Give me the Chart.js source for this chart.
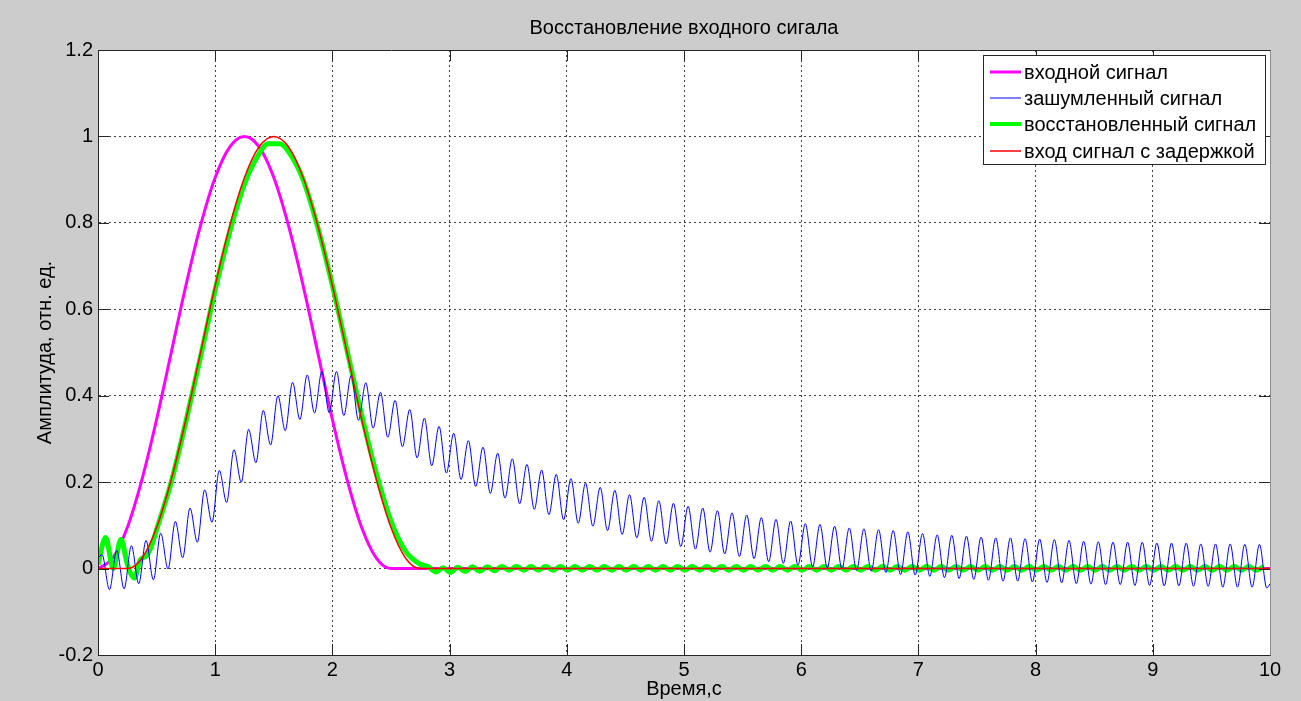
<!DOCTYPE html>
<html>
<head>
<meta charset="utf-8">
<title>Восстановление входного сигала</title>
<script src="https://cdn.jsdelivr.net/npm/chart.js@4.4.1/dist/chart.umd.min.js"></script>
<style>
  html, body { margin: 0; padding: 0; background: #cccccc; overflow: hidden; }
  canvas { display: block; }
</style>
</head>
<body>
<canvas id="plot" width="1301" height="701"></canvas>
<script>
// входной сигнал
var inputT = [0, 0.125, 0.25, 0.375, 0.5, 0.625, 0.75, 0.875, 1.0, 1.125, 1.25,
              1.375, 1.5, 1.625, 1.75, 1.875, 2.0, 2.125, 2.25, 2.375, 2.5, 10];
var inputY = [0, 0.024, 0.095, 0.206, 0.345, 0.5, 0.655, 0.794, 0.905, 0.976, 1.0,
              0.976, 0.905, 0.794, 0.655, 0.5, 0.345, 0.206, 0.095, 0.024, 0, 0];

// вход сигнал с задержкой
var delayT = [0, 0.25, 0.375, 0.5, 0.625, 0.75, 0.875, 1.0, 1.125, 1.25, 1.375, 1.5,
              1.625, 1.75, 1.875, 2.0, 2.125, 2.25, 2.375, 2.5, 2.625, 2.75, 10];
var delayY = [0, 0, 0.024, 0.095, 0.206, 0.345, 0.5, 0.655, 0.794, 0.905, 0.976, 1.0,
              0.976, 0.905, 0.794, 0.655, 0.5, 0.345, 0.206, 0.095, 0.024, 0, 0];

// зашумленный сигнал: начало, пики/впадины через полпериода помехи, конец
var noisyStart = 0.025;
var noisyEnd = -0.035;
var noisyT0 = 0.035;
var noisyStep = 0.0625;
var noisyY = [
  0.032, -0.049, 0.042, -0.047, 0.053, -0.035, 0.065, -0.026, 0.082, -0.001,
  0.109, 0.025, 0.140, 0.061, 0.182, 0.107, 0.227, 0.153, 0.275, 0.200,
  0.322, 0.245, 0.366, 0.286, 0.400, 0.319, 0.431, 0.345, 0.448, 0.360,
  0.456, 0.361, 0.456, 0.354, 0.447, 0.343, 0.430, 0.325, 0.408, 0.304,
  0.389, 0.282, 0.368, 0.256, 0.348, 0.238, 0.329, 0.221, 0.313, 0.206,
  0.296, 0.190, 0.281, 0.174, 0.267, 0.163, 0.254, 0.150, 0.241, 0.137,
  0.228, 0.125, 0.218, 0.113, 0.208, 0.105, 0.198, 0.098, 0.188, 0.088,
  0.181, 0.079, 0.171, 0.071, 0.165, 0.063, 0.157, 0.057, 0.151, 0.051,
  0.144, 0.045, 0.140, 0.038, 0.134, 0.034, 0.129, 0.028, 0.124, 0.023,
  0.118, 0.016, 0.114, 0.012, 0.110, 0.008, 0.104, 0.004, 0.102, 0.002,
  0.098, -0.001, 0.094, -0.004, 0.092, -0.006, 0.090, -0.009, 0.088, -0.014,
  0.085, -0.015, 0.081, -0.018, 0.078, -0.021, 0.077, -0.023, 0.075, -0.025,
  0.073, -0.027, 0.071, -0.029, 0.071, -0.029, 0.069, -0.031, 0.068, -0.032,
  0.067, -0.033, 0.065, -0.035, 0.063, -0.036, 0.062, -0.037, 0.061, -0.037,
  0.061, -0.039, 0.061, -0.039, 0.059, -0.040, 0.059, -0.040, 0.059, -0.041,
  0.057, -0.041, 0.057, -0.043, 0.057, -0.043, 0.056, -0.043, 0.056, -0.045
];

// восстановленный сигнал: основной импульс
var restT = [0, 0.065, 0.13, 0.196, 0.25, 0.31, 0.36, 0.415, 0.46, 0.5, 0.625, 0.75,
             0.875, 1.0, 1.125, 1.25, 1.375, 1.45, 1.55, 1.625, 1.75, 1.875, 2.0,
             2.125, 2.25, 2.375, 2.5, 2.625, 2.75];
var restY = [0.01, 0.072, 0.0, 0.068, 0.01, -0.022, 0.02, 0.03, 0.055, 0.09, 0.2, 0.34,
             0.49, 0.645, 0.78, 0.89, 0.96, 0.983, 0.983, 0.965, 0.9, 0.79, 0.655,
             0.505, 0.355, 0.22, 0.11, 0.04, 0.01];
// восстановленный сигнал: остаточные колебания после импульса
var rippleT0 = 2.82;
var rippleStep = 0.0625;
var rippleY = [
  0.004, -0.008, 0.002, -0.009, 0.003, -0.007, 0.004, -0.006, 0.004, -0.005,
  0.005, -0.004, 0.005, -0.004, 0.005, -0.004, 0.005, -0.004, 0.005, -0.004,
  0.005, -0.004, 0.005, -0.004, 0.005, -0.004, 0.005, -0.004, 0.005, -0.004,
  0.005, -0.004, 0.005, -0.004, 0.005, -0.004, 0.005, -0.004, 0.005, -0.004,
  0.005, -0.004, 0.005, -0.004, 0.005, -0.004, 0.005, -0.004, 0.005, -0.004,
  0.005, -0.004, 0.005, -0.004, 0.005, -0.004, 0.005, -0.004, 0.005, -0.004,
  0.005, -0.004, 0.005, -0.004, 0.005, -0.004, 0.005, -0.004, 0.005, -0.004,
  0.005, -0.004, 0.005, -0.004, 0.005, -0.004, 0.005, -0.004, 0.005, -0.004,
  0.005, -0.004, 0.005, -0.004, 0.005, -0.004, 0.005, -0.004, 0.005, -0.004,
  0.005, -0.004, 0.005, -0.004, 0.005, -0.004, 0.005, -0.004, 0.005, -0.004,
  0.005, -0.004, 0.005, -0.004, 0.005, -0.004, 0.005, -0.004, 0.005, -0.004,
  0.005, -0.004, 0.005, -0.004, 0.005
];

var chartTitle = 'Восстановление входного сигала';
var seriesLabels = ['входной сигнал', 'зашумленный сигнал', 'восстановленный сигнал', 'вход сигнал с задержкой'];
var xTicks = [0, 1, 2, 3, 4, 5, 6, 7, 8, 9, 10];
var xTickLabels = ['0', '1', '2', '3', '4', '5', '6', '7', '8', '9', '10'];
var yTicks = [-0.2, 0, 0.2, 0.4, 0.6, 0.8, 1, 1.2];
var yTickLabels = ['-0.2', '0', '0.2', '0.4', '0.6', '0.8', '1', '1.2'];

function pairs(ts, ys) {
  return ts.map(function (t, i) { return { x: t, y: ys[i] }; });
}

var noisyPts = [{ x: 0, y: noisyStart }];
noisyY.forEach(function (v, i) { noisyPts.push({ x: noisyT0 + i * noisyStep, y: v }); });
noisyPts.push({ x: 10, y: noisyEnd });

var restPts = pairs(restT, restY);
rippleY.forEach(function (v, i) {
  var t = rippleT0 + i * rippleStep;
  if (t <= 10) restPts.push({ x: t, y: v });
});

var fontFamily = "'Liberation Sans', Arial, Helvetica, sans-serif";
var axisFont = { family: fontFamily, size: 20 };

// серый фон окна, белая область графика, рамка, риски, заголовок и легенда
var matlabAxes = {
  id: 'matlabAxes',
  beforeDraw: function (chart) {
    var ctx = chart.ctx, a = chart.chartArea;
    ctx.save();
    ctx.fillStyle = '#cccccc';
    ctx.fillRect(0, 0, chart.width, chart.height);
    ctx.fillStyle = '#ffffff';
    ctx.fillRect(a.left, a.top, a.right - a.left, a.bottom - a.top);
    ctx.restore();
  },
  afterDraw: function (chart) {
    var ctx = chart.ctx, a = chart.chartArea;
    var xs = chart.scales.x, ys = chart.scales.y;
    var tick = 11;
    ctx.save();

    // заголовок по центру области графика
    ctx.fillStyle = '#000000';
    ctx.font = '20px ' + fontFamily;
    ctx.textAlign = 'center';
    ctx.textBaseline = 'middle';
    ctx.fillText(chartTitle, (a.left + a.right) / 2, 28);

    ctx.strokeStyle = '#262626';
    ctx.lineWidth = 1;
    ctx.beginPath();
    xTicks.forEach(function (v) {
      var px = Math.round(xs.getPixelForValue(v)) + 0.5;
      ctx.moveTo(px, a.bottom); ctx.lineTo(px, a.bottom - tick);
      ctx.moveTo(px, a.top); ctx.lineTo(px, a.top + tick);
    });
    yTicks.forEach(function (v) {
      var py = Math.round(ys.getPixelForValue(v)) + 0.5;
      ctx.moveTo(a.left, py); ctx.lineTo(a.left + tick, py);
      ctx.moveTo(a.right, py); ctx.lineTo(a.right - tick, py);
    });
    ctx.stroke();
    ctx.beginPath();
    ctx.moveTo(a.left + 0.5, a.bottom + 0.5);
    ctx.lineTo(a.left + 0.5, a.top + 0.5);
    ctx.lineTo(a.right + 0.5, a.top + 0.5);
    ctx.moveTo(a.left + 0.5, a.bottom + 0.5);
    ctx.lineTo(a.right + 0.5, a.bottom + 0.5);
    ctx.stroke();
    ctx.strokeStyle = '#8c8c8c';
    ctx.beginPath();
    ctx.moveTo(a.right + 0.5, a.top + 0.5);
    ctx.lineTo(a.right + 0.5, a.bottom + 0.5);
    ctx.stroke();

    // легенда в правом верхнем углу
    var w = 283, h = 110;
    var bx = a.right - 4 - w, by = a.top + 5;
    ctx.fillStyle = '#ffffff';
    ctx.fillRect(bx, by, w, h);
    ctx.strokeStyle = '#262626';
    ctx.strokeRect(bx + 0.5, by + 0.5, w - 1, h - 1);
    ctx.textBaseline = 'middle';
    ctx.textAlign = 'left';
    chart.data.datasets.forEach(function (ds, i) {
      var cy = Math.round(by + 17 + i * 26.2);
      ctx.strokeStyle = ds.borderColor;
      ctx.lineWidth = Math.min(ds.borderWidth, 4);
      ctx.beginPath();
      ctx.moveTo(bx + 7, cy);
      ctx.lineTo(bx + 38, cy);
      ctx.stroke();
      ctx.fillStyle = '#000000';
      ctx.fillText(ds.label, bx + 41, cy + 1);
    });
    ctx.restore();
  }
};

var lineDefaults = { pointRadius: 0, fill: false, cubicInterpolationMode: 'monotone' };

new Chart(document.getElementById('plot'), {
  type: 'line',
  data: {
    datasets: [
      Object.assign({ label: seriesLabels[0], data: pairs(inputT, inputY),
        borderColor: '#ff00ff', borderWidth: 3, order: 4 }, lineDefaults),
      Object.assign({ label: seriesLabels[1], data: noisyPts,
        borderColor: '#0000ff', borderWidth: 1, order: 2 }, lineDefaults),
      Object.assign({ label: seriesLabels[2], data: restPts,
        borderColor: '#00ff00', borderWidth: 5, order: 3 }, lineDefaults),
      Object.assign({ label: seriesLabels[3], data: pairs(delayT, delayY),
        borderColor: '#ff0000', borderWidth: 1.5, order: 1 }, lineDefaults)
    ]
  },
  options: {
    responsive: false,
    animation: false,
    events: [],
    layout: { padding: { left: 0, right: 31, top: 50, bottom: 0 } },
    plugins: {
      legend: { display: false },
      tooltip: { enabled: false },
      title: { display: false }
    },
    scales: {
      x: {
        type: 'linear',
        min: 0,
        max: 10,
        afterBuildTicks: function (axis) {
          axis.ticks = xTicks.map(function (v) { return { value: v }; });
        },
        afterFit: function (axis) { axis.height = 46; },
        ticks: {
          autoSkip: false,
          maxRotation: 0,
          padding: 3,
          color: '#000000',
          font: axisFont,
          callback: function (v) { return xTickLabels[xTicks.indexOf(v)]; }
        },
        grid: { color: '#404040', lineWidth: 1, drawTicks: false },
        border: { display: true, color: '#262626', width: 1, dash: [2, 3] },
        title: {
          display: true,
          text: 'Время,с',
          color: '#000000',
          font: axisFont,
          padding: { top: 0, bottom: 0 }
        }
      },
      y: {
        type: 'linear',
        min: -0.2,
        max: 1.2,
        afterBuildTicks: function (axis) {
          axis.ticks = yTicks.map(function (v) { return { value: v }; });
        },
        afterFit: function (axis) { axis.width = 98; },
        ticks: {
          padding: 5,
          color: '#000000',
          font: axisFont,
          callback: function (v) {
            var i = yTicks.findIndex(function (t) { return Math.abs(t - v) < 1e-9; });
            return yTickLabels[i];
          }
        },
        grid: { color: '#404040', lineWidth: 1, drawTicks: false },
        border: { display: true, color: '#262626', width: 1, dash: [2, 3] },
        title: {
          display: true,
          text: 'Амплитуда, отн. ед.',
          color: '#000000',
          font: axisFont,
          padding: { top: 33, bottom: 0 }
        }
      }
    }
  },
  plugins: [matlabAxes]
});
</script>
</body>
</html>
